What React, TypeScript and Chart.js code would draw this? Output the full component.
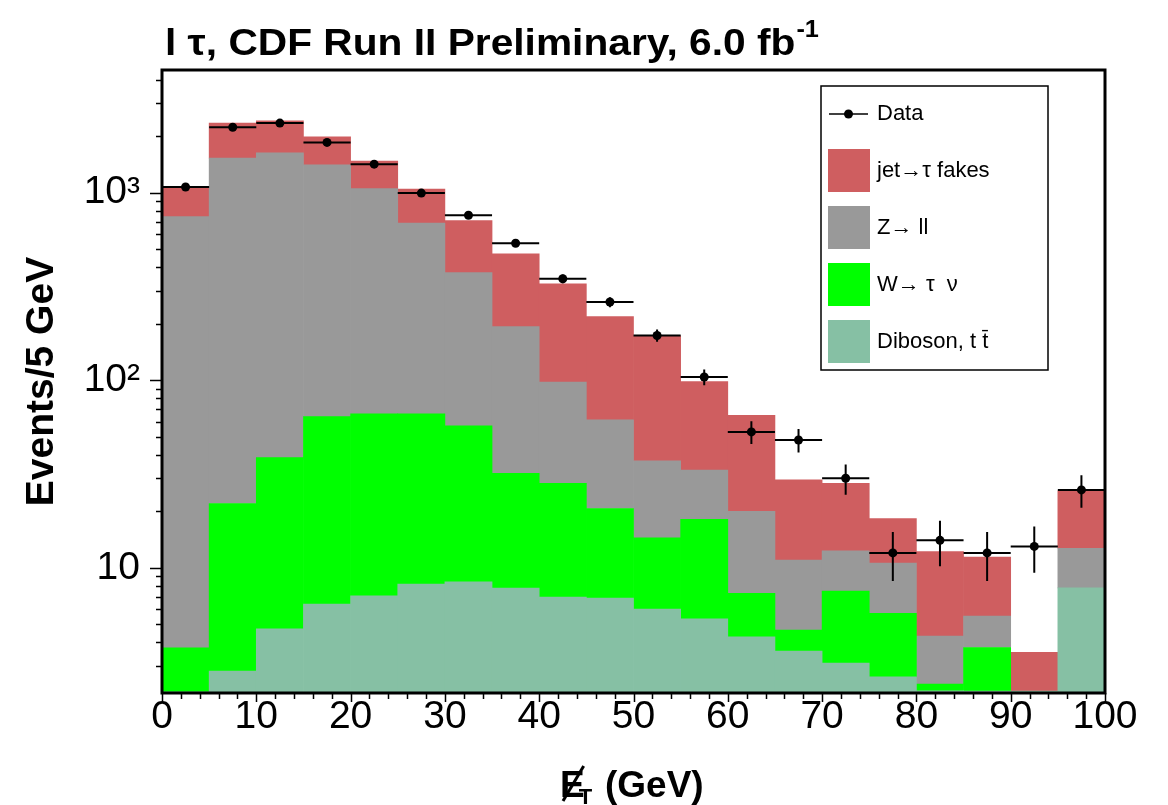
import React, { useEffect, useRef } from 'react';
import { Chart, registerables } from 'chart.js';

Chart.register(...registerables);

// ---------------- data ----------------
const binLow = [0, 5, 10, 15, 20, 25, 30, 35, 40, 45, 50, 55, 60, 65, 70, 75, 80, 85, 90, 95];
const BIN_WIDTH = 5;

const dataCounts = [1070, 2230, 2345, 1850, 1417, 993, 757, 537, 347, 261, 173, 104, 53, 48, 30, 12, 14, 12, 13, 26];
const dataErrors = [33, 47, 48, 43, 38, 32, 28, 23, 19, 16, 13, 10, 7.3, 6.9, 5.5, 3.5, 3.8, 3.5, 3.6, 5.1];

// background contributions (stacked bottom -> top: diboson, W, Z, fakes)
const dibosonTT = [2.18, 2.81, 4.73, 6.4, 7.09, 8.19, 8.42, 7.79, 6.98, 6.89, 6.02, 5.35, 4.29, 3.6, 3.1, 2.62, 2.21, 2.2, 2.2, 7.82];
const wTauNu = [1.56, 19.2, 33.9, 57.5, 59.0, 57.9, 48.6, 24.1, 21.2, 13.8, 8.43, 12.75, 3.01, 1.05, 4.4, 3.09, 0.19, 1.56, 0, 0];
const zLL = [741, 1503, 1589, 1341, 984, 621, 317, 161, 69.6, 40.7, 22.65, 15.1, 12.7, 6.35, 4.8, 4.89, 1.93, 1.77, 0, 4.88];
const jetTauFakes = [324, 820, 784, 577, 420, 355, 335, 278, 228, 157, 135, 65, 45, 18.4, 15.9, 7.7, 7.87, 5.87, 1.34, 13.0];

const xMajorTicks = [0, 10, 20, 30, 40, 50, 60, 70, 80, 90, 100];
const xMinorTicks = [
  2, 4, 6, 8, 12, 14, 16, 18, 22, 24, 26, 28, 32, 34, 36, 38, 42, 44, 46, 48,
  52, 54, 56, 58, 62, 64, 66, 68, 72, 74, 76, 78, 82, 84, 86, 88, 92, 94, 96, 98,
];
const yTickValues = [
  3, 4, 5, 6, 7, 8, 9, 10, 20, 30, 40, 50, 60, 70, 80, 90, 100,
  200, 300, 400, 500, 600, 700, 800, 900, 1000, 2000, 3000, 4000,
];
const yTickLabels: Record<number, string> = { 10: '10', 100: '10²', 1000: '10³' };

const titleMain = 'l τ, CDF Run II Preliminary, 6.0 fb';
const titleSup = '-1';
const yTitle = 'Events/5 GeV';
const legendData = 'Data';
const legendLabels = ['jet→τ fakes', 'Z→ ll', 'W→ τ  ν', 'Diboson, t t̄'];

// ---------------- styles ----------------
const FONT = '"Liberation Sans", Arial, Helvetica, sans-serif';
const COL_FAKES = 'rgb(207,94,96)';
const COL_Z = 'rgb(153,153,153)';
const COL_W = 'rgb(0,255,0)';
const COL_DIB = 'rgb(134,192,164)';
const legendColors = [COL_FAKES, COL_Z, COL_W, COL_DIB];

const decorPlugin = {
  id: 'rootDecor',
  afterDatasetsDraw(chart: any) {
    const { ctx, chartArea, scales } = chart;
    const xs = scales.x;
    const ys = scales.y;
    ctx.save();
    ctx.beginPath();
    ctx.rect(chartArea.left, chartArea.top, chartArea.right - chartArea.left, chartArea.bottom - chartArea.top);
    ctx.clip();
    ctx.strokeStyle = '#000';
    ctx.lineWidth = 2;
    for (let i = 0; i < binLow.length; i++) {
      const v = dataCounts[i];
      const e = dataErrors[i];
      const py = ys.getPixelForValue(v);
      const x0 = xs.getPixelForValue(binLow[i]);
      const x1 = xs.getPixelForValue(binLow[i] + BIN_WIDTH);
      const xc = xs.getPixelForValue(binLow[i] + BIN_WIDTH / 2);
      ctx.beginPath();
      ctx.moveTo(x0, py);
      ctx.lineTo(x1, py);
      ctx.moveTo(xc, ys.getPixelForValue(v - e));
      ctx.lineTo(xc, ys.getPixelForValue(v + e));
      ctx.stroke();
    }
    ctx.restore();
  },
  afterDraw(chart: any) {
    const { ctx, chartArea, scales } = chart;
    const xs = scales.x;
    const ys = scales.y;
    const { left, right, top, bottom } = chartArea;
    ctx.save();

    // tick marks
    ctx.strokeStyle = '#000';
    ctx.lineWidth = 1.5;
    ctx.beginPath();
    for (const v of xMajorTicks) {
      const px = Math.round(xs.getPixelForValue(v)) + 0.5;
      ctx.moveTo(px, bottom);
      ctx.lineTo(px, bottom + 9);
    }
    for (const v of xMinorTicks) {
      const px = Math.round(xs.getPixelForValue(v)) + 0.5;
      ctx.moveTo(px, bottom);
      ctx.lineTo(px, bottom + 6);
    }
    for (const v of yTickValues) {
      const py = Math.round(ys.getPixelForValue(v)) + 0.5;
      const len = yTickLabels[v] ? 12 : 6;
      ctx.moveTo(left - len, py);
      ctx.lineTo(left, py);
    }
    ctx.stroke();

    // frame
    ctx.lineWidth = 3;
    ctx.strokeRect(left, top, right - left, bottom - top);

    // legend
    const lx = 821, ly = 86, lw = 227, lh = 284;
    ctx.fillStyle = '#fff';
    ctx.fillRect(lx, ly, lw, lh);
    ctx.lineWidth = 1.5;
    ctx.strokeStyle = '#000';
    ctx.strokeRect(lx, ly, lw, lh);
    ctx.font = `22px ${FONT}`;
    ctx.textBaseline = 'middle';
    ctx.textAlign = 'left';
    ctx.fillStyle = '#000';
    ctx.beginPath();
    ctx.moveTo(829, 114);
    ctx.lineTo(868, 114);
    ctx.stroke();
    ctx.beginPath();
    ctx.arc(848.5, 114, 4.5, 0, Math.PI * 2);
    ctx.fill();
    ctx.fillText(legendData, 877, 114);
    const boxTops = [149, 206, 263, 320];
    for (let i = 0; i < legendLabels.length; i++) {
      ctx.fillStyle = legendColors[i];
      ctx.fillRect(828, boxTops[i], 42, 43);
      ctx.fillStyle = '#000';
      ctx.fillText(legendLabels[i], 877, boxTops[i] + 22);
    }

    // title
    ctx.textBaseline = 'alphabetic';
    ctx.save();
    ctx.translate(165, 55);
    ctx.scale(1.1, 1);
    ctx.font = `bold 37px ${FONT}`;
    ctx.fillText(titleMain, 0, 0);
    const tw = ctx.measureText(titleMain).width;
    ctx.font = `bold 23px ${FONT}`;
    ctx.fillText(titleSup, tw + 1, -18);
    ctx.restore();

    // x axis title: missing E_T (GeV)
    const bx = 560, by = 797;
    ctx.font = `bold 37px ${FONT}`;
    ctx.fillText('E', bx, by);
    const wE = ctx.measureText('E').width;
    ctx.lineWidth = 3;
    ctx.beginPath();
    ctx.moveTo(bx + 3, by + 4);
    ctx.lineTo(bx + wE - 1, by - 31);
    ctx.stroke();
    ctx.font = `bold 22px ${FONT}`;
    ctx.fillText('T', bx + wE - 6, by + 7);
    ctx.font = `bold 37px ${FONT}`;
    ctx.fillText('(GeV)', 605, by);

    ctx.restore();
  },
};

export default function App() {
  const ref = useRef<HTMLCanvasElement>(null);

  useEffect(() => {
    const canvas = ref.current;
    if (!canvas) return;
    const centers = binLow.map((b) => b + BIN_WIDTH / 2);
    const pts = (vals: number[]) => vals.map((v, i) => ({ x: centers[i], y: v }));

    const chart = new Chart(canvas, {
      type: 'bar',
      data: {
        datasets: [
          { type: 'line', label: legendData, data: pts(dataCounts), showLine: false, pointRadius: 4.5, pointHoverRadius: 4.5, pointBackgroundColor: '#000', pointBorderColor: '#000', pointBorderWidth: 0, borderColor: '#000', order: 0 } as any,
          { type: 'bar', label: legendLabels[3], data: pts(dibosonTT), backgroundColor: COL_DIB, order: 1 },
          { type: 'bar', label: legendLabels[2], data: pts(wTauNu), backgroundColor: COL_W, order: 2 },
          { type: 'bar', label: legendLabels[1], data: pts(zLL), backgroundColor: COL_Z, order: 3 },
          { type: 'bar', label: legendLabels[0], data: pts(jetTauFakes), backgroundColor: COL_FAKES, order: 4 },
        ],
      },
      options: {
        responsive: false,
        animation: false,
        devicePixelRatio: 1,
        layout: { padding: { top: 70, right: 63, left: 0, bottom: 0 } },
        datasets: {
          bar: { barPercentage: 1, categoryPercentage: 1, borderWidth: 0 },
        } as any,
        plugins: {
          legend: { display: false },
          tooltip: { enabled: false },
          title: { display: false },
        },
        scales: {
          x: {
            type: 'linear',
            min: 0,
            max: 100,
            stacked: true,
            offset: false,
            afterBuildTicks: (s: any) => {
              s.ticks = xMajorTicks.map((v) => ({ value: v }));
            },
            afterFit: (s: any) => {
              s.height = 112;
            },
            ticks: {
              autoSkip: false,
              maxRotation: 0,
              minRotation: 0,
              padding: -2,
              color: '#000',
              font: { family: FONT, size: 39, lineHeight: 1 },
              callback: (v: any) => String(v),
            },
            grid: { drawOnChartArea: false, drawTicks: true, tickLength: 7, tickColor: 'rgba(0,0,0,0)', offset: false },
            border: { display: false },
          },
          y: {
            type: 'logarithmic',
            min: 2.15,
            max: 4500,
            stacked: true,
            afterBuildTicks: (s: any) => {
              s.ticks = yTickValues.map((v) => ({ value: v }));
            },
            afterFit: (s: any) => {
              s.width = 162;
            },
            ticks: {
              autoSkip: false,
              padding: 13,
              color: '#000',
              font: { family: FONT, size: 39, lineHeight: 1 },
              callback: (v: any) => yTickLabels[Number(v)] || '',
            },
            grid: { drawOnChartArea: false, drawTicks: true, tickLength: 9, tickColor: 'rgba(0,0,0,0)' },
            border: { display: false },
            title: {
              display: true,
              text: yTitle,
              color: '#000',
              font: { family: FONT, size: 39, weight: 'bold', lineHeight: 1.2 },
              padding: { top: 19, bottom: 0 },
            },
          },
        },
      } as any,
      plugins: [decorPlugin],
    });
    return () => chart.destroy();
  }, []);

  return (
    <div style={{ position: 'absolute', left: 0, top: 0, width: 1168, height: 805, background: '#fff' }}>
      <canvas ref={ref} width={1168} height={805} style={{ display: 'block', width: 1168, height: 805 }} />
    </div>
  );
}
